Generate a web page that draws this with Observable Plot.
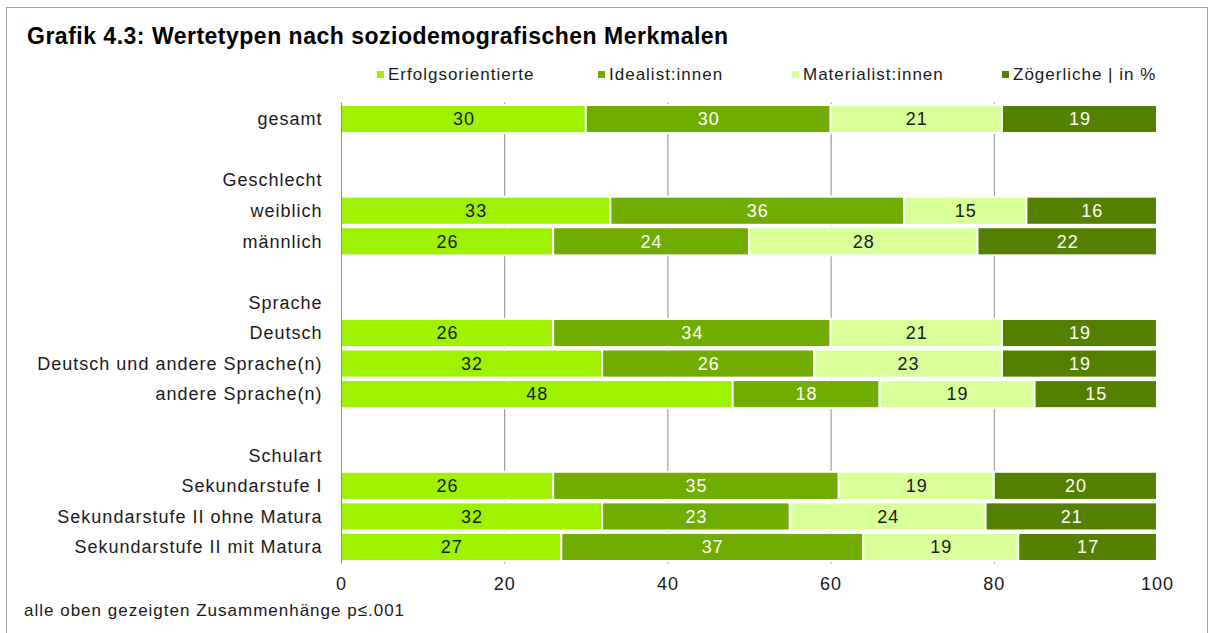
<!DOCTYPE html>
<html>
<head>
<meta charset="utf-8">
<script src="https://cdn.jsdelivr.net/npm/d3@7"></script>
<script src="https://cdn.jsdelivr.net/npm/@observablehq/plot@0.6"></script>
<style>
  html, body { margin: 0; padding: 0; background: #fff; }
  body { width: 1213px; height: 633px; position: relative; overflow: hidden; font-family: "Liberation Sans", Arial, sans-serif; color: #1a1a1a; }
  #frame { position: absolute; left: 6px; top: 7px; width: 1200px; height: 700px; border-left: 1px solid #a0a0a0; border-top: 1px solid #a0a0a0; border-right: 1px solid #a0a0a0; }
  #title { position: absolute; left: 27px; top: 23px; font-size: 23px; font-weight: bold; color: #000; letter-spacing: 0.5px; }
  .leg { position: absolute; top: 65px; font-size: 17px; letter-spacing: 1px; white-space: nowrap; }
  .leg i { display: inline-block; width: 7px; height: 7px; margin-right: 4px; vertical-align: 2px; }
  #chart { position: absolute; left: 0; top: 90px; }
  #foot { position: absolute; left: 24px; top: 601px; font-size: 17px; letter-spacing: 1px; }
</style>
</head>
<body>
<div id="frame"></div>
<div id="title">Grafik 4.3: Wertetypen nach soziodemografischen Merkmalen</div>
<div id="legend"></div>
<div id="chart"></div>
<div id="foot">alle oben gezeigten Zusammenhänge p≤.001</div>
<script>
const rowLabels = ["gesamt", "", "Geschlecht", "weiblich", "männlich", "", "Sprache", "Deutsch",
  "Deutsch und andere Sprache(n)", "andere Sprache(n)", "", "Schulart", "Sekundarstufe I",
  "Sekundarstufe II ohne Matura", "Sekundarstufe II mit Matura"];
const seriesNames = ["Erfolgsorientierte", "Idealist:innen", "Materialist:innen", "Zögerliche | in %"];
const seriesColors = ["#9ef200", "#70ad00", "#d9ff99", "#548000"];
const labelColors = ["#1a1a1a", "#ffffff", "#1a1a1a", "#ffffff"];
const barRows = [0, 3, 4, 7, 8, 9, 12, 13, 14];
const erfolgsorientierte = [30, 33, 26, 26, 32, 48, 26, 32, 27];
const idealisten = [30, 36, 24, 34, 26, 18, 35, 23, 37];
const materialisten = [21, 15, 28, 21, 23, 19, 19, 24, 19];
const zoegerliche = [19, 16, 22, 19, 19, 15, 20, 21, 17];
const xTicks = [0, 20, 40, 60, 80, 100];
const gridTicks = [20, 40, 60, 80];
const legendLefts = [377, 598, 792, 1002];

const seriesValues = [erfolgsorientierte, idealisten, materialisten, zoegerliche];
const data = [];
seriesNames.forEach((s, si) => {
  barRows.forEach((r, ri) => {
    data.push({row: r, series: s, si, value: seriesValues[si][ri]});
  });
});

const legend = document.getElementById("legend");
seriesNames.forEach((s, i) => {
  const d = document.createElement("div");
  d.className = "leg";
  d.style.left = legendLefts[i] + "px";
  d.innerHTML = `<i style="background:${seriesColors[i]}"></i>${s}`;
  legend.appendChild(d);
});

const rowDomain = rowLabels.map((_, i) => i);

const plot = Plot.plot({
  width: 1213,
  height: 515,
  marginLeft: 341,
  marginRight: 56,
  marginTop: 12.5,
  marginBottom: 41.5,
  style: {fontFamily: "'Liberation Sans', Arial, sans-serif", fontSize: "18px", letterSpacing: "1px", color: "#1a1a1a", background: "transparent"},
  x: {domain: [0, 100], ticks: xTicks, tickSize: 0, tickPadding: 13, label: null},
  y: {domain: rowDomain, padding: 0.08, round: false, tickSize: 0, tickPadding: 19, tickFormat: i => rowLabels[i], label: null},
  color: {domain: seriesNames, range: seriesColors},
  marks: [
    Plot.ruleX(gridTicks, {stroke: "#8c8c8c", strokeWidth: 1}),
    Plot.barX(data, Plot.stackX({x: "value", y: "row", fill: "series", stroke: "#ffffff", strokeWidth: 2, order: null})),
    Plot.text(data, Plot.stackX({x: "value", y: "row", z: "series", text: d => String(d.value), fill: d => labelColors[d.si], fontSize: 18, order: null})),
    Plot.ruleX([0], {stroke: "#8c8c8c", strokeWidth: 1}),
    Plot.ruleY([rowDomain.length], {stroke: "#8c8c8c", strokeWidth: 1, y: () => null, frameAnchor: "bottom"})
  ]
});
document.getElementById("chart").appendChild(plot);
</script>
</body>
</html>
